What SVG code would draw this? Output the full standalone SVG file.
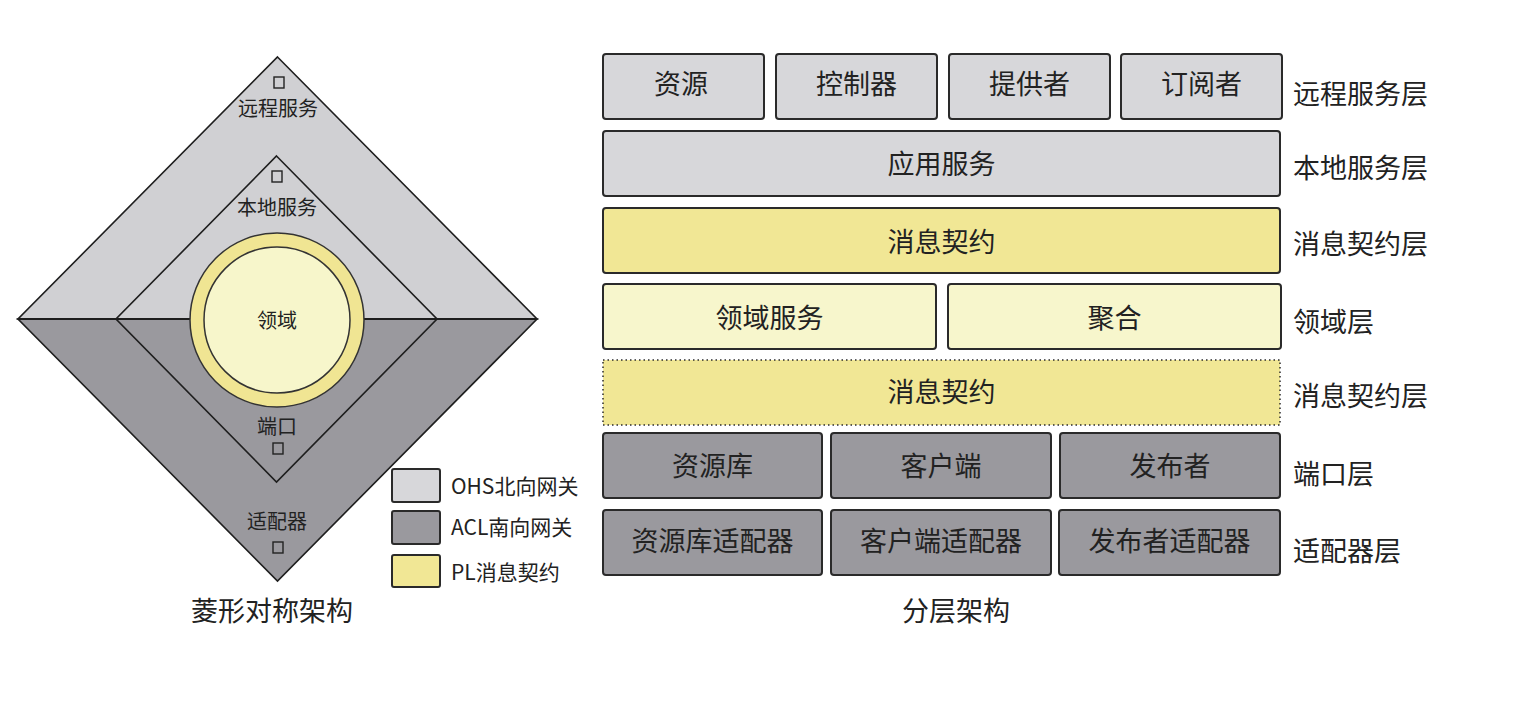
<svg xmlns="http://www.w3.org/2000/svg" width="1526" height="708" viewBox="0 0 1526 708">
<style>
text{font-family:"Noto Sans CJK SC","Liberation Sans",sans-serif;fill:#222;}
.d{stroke:#1e1e1e;stroke-width:1.6;stroke-linejoin:miter;}
.lt{fill:#d0d0d3;}
.dk{fill:#9a999e;}
.sq{fill:none;stroke:#222;stroke-width:1.4;}
.dl{font-size:20px;text-anchor:middle;dominant-baseline:central;}
.bx{stroke:#2a2a2a;stroke-width:2;}
.g1{fill:#d7d7da;}
.g2{fill:#9a999e;}
.y1{fill:#f1e795;}
.y2{fill:#f7f6cc;}
.bt{font-size:27px;text-anchor:middle;dominant-baseline:central;}
.lb{font-size:27px;dominant-baseline:central;}
.lg{font-size:21px;dominant-baseline:central;}
.cap{font-size:27px;text-anchor:middle;dominant-baseline:central;}
</style>
<rect width="1526" height="708" fill="#ffffff"/>
<g id="diamond">
  <g id="outer-diamond">
    <polygon class="d lt" points="277.5,57 537,319 18,319"/>
    <polygon class="d dk" points="18,319 537,319 277.5,581"/>
  </g>
  <g id="inner-diamond">
    <polygon class="d lt" points="276.5,156 437,319 116,319"/>
    <polygon class="d dk" points="116,319 437,319 276.5,482"/>
  </g>
  <line x1="18" y1="319" x2="537" y2="319" stroke="#1e1e1e" stroke-width="2.2"/>
  <g id="domain-circle">
    <circle cx="277" cy="320" r="87" fill="#f0e593" stroke="#333" stroke-width="1.5"/>
    <circle cx="277" cy="320" r="73" fill="#f7f6cb" stroke="#333" stroke-width="1.5"/>
    <text class="dl" x="277" y="319">领域</text>
  </g>
  <g id="remote-service">
    <rect class="sq" x="274" y="77" width="10" height="11"/>
    <text class="dl" x="278" y="107">远程服务</text>
  </g>
  <g id="local-service">
    <rect class="sq" x="272" y="171" width="10" height="11"/>
    <text class="dl" x="277" y="206">本地服务</text>
  </g>
  <g id="port">
    <text class="dl" x="277" y="425">端口</text>
    <rect class="sq" x="273" y="443" width="10" height="11"/>
  </g>
  <g id="adapter">
    <text class="dl" x="277" y="520">适配器</text>
    <rect class="sq" x="273" y="542" width="10" height="11"/>
  </g>
</g>
<g id="legend">
  <g id="legend-ohs">
    <rect class="bx g1" x="392" y="469" width="48" height="33" rx="2"/>
    <text class="lg" x="451" y="485">OHS北向网关</text>
  </g>
  <g id="legend-acl">
    <rect class="bx g2" x="392" y="511" width="48" height="33" rx="2"/>
    <text class="lg" x="451" y="526">ACL南向网关</text>
  </g>
  <g id="legend-pl">
    <rect class="bx y1" x="392" y="555" width="48" height="32" rx="2"/>
    <text class="lg" x="451" y="571">PL消息契约</text>
  </g>
</g>
<text id="caption-left" class="cap" x="272" y="609">菱形对称架构</text>
<g id="layers">
  <g id="n-resource"><rect class="bx g1" x="603" y="54" width="161" height="65" rx="3"/><text class="bt" x="681" y="82">资源</text></g>
  <g id="n-controller"><rect class="bx g1" x="776" y="54" width="161" height="65" rx="3"/><text class="bt" x="856.5" y="82">控制器</text></g>
  <g id="n-provider"><rect class="bx g1" x="949" y="54" width="161" height="65" rx="3"/><text class="bt" x="1029.5" y="82">提供者</text></g>
  <g id="n-subscriber"><rect class="bx g1" x="1121" y="54" width="161" height="65" rx="3"/><text class="bt" x="1201.5" y="82">订阅者</text></g>
  <g id="n-appservice"><rect class="bx g1" x="603" y="131" width="677" height="65" rx="3"/><text class="bt" x="941.5" y="162">应用服务</text></g>
  <g id="n-contract1"><rect class="bx y1" x="603" y="208" width="677" height="65" rx="3"/><text class="bt" x="941.5" y="240">消息契约</text></g>
  <g id="n-domainservice"><rect class="bx y2" x="603" y="284" width="333" height="65" rx="3"/><text class="bt" x="769.5" y="316">领域服务</text></g>
  <g id="n-aggregate"><rect class="bx y2" x="948" y="284" width="333" height="65" rx="3"/><text class="bt" x="1114.5" y="316">聚合</text></g>
  <g id="n-contract2"><rect x="603" y="360" width="677" height="65" fill="#f1e795" stroke="#2a2a2a" stroke-width="1.5" stroke-dasharray="1.5,3"/><text class="bt" x="941.5" y="390">消息契约</text></g>
  <g id="n-repository"><rect class="bx g2" x="603" y="433" width="219" height="65" rx="3"/><text class="bt" x="712.5" y="464">资源库</text></g>
  <g id="n-client"><rect class="bx g2" x="831" y="433" width="220" height="65" rx="3"/><text class="bt" x="941" y="464">客户端</text></g>
  <g id="n-publisher"><rect class="bx g2" x="1060" y="433" width="220" height="65" rx="3"/><text class="bt" x="1170" y="464">发布者</text></g>
  <g id="n-repo-adapter"><rect class="bx g2" x="603" y="510" width="219" height="65" rx="3"/><text class="bt" x="712.5" y="539">资源库适配器</text></g>
  <g id="n-client-adapter"><rect class="bx g2" x="831" y="510" width="220" height="65" rx="3"/><text class="bt" x="941" y="539">客户端适配器</text></g>
  <g id="n-publisher-adapter"><rect class="bx g2" x="1059" y="510" width="221" height="65" rx="3"/><text class="bt" x="1169.5" y="539">发布者适配器</text></g>
</g>
<g id="layer-labels">
  <text class="lb" x="1293" y="92">远程服务层</text>
  <text class="lb" x="1293" y="166">本地服务层</text>
  <text class="lb" x="1293" y="242">消息契约层</text>
  <text class="lb" x="1293" y="320">领域层</text>
  <text class="lb" x="1293" y="394">消息契约层</text>
  <text class="lb" x="1293" y="472">端口层</text>
  <text class="lb" x="1293" y="549">适配器层</text>
</g>
<text id="caption-right" class="cap" x="956" y="609">分层架构</text>
</svg>
